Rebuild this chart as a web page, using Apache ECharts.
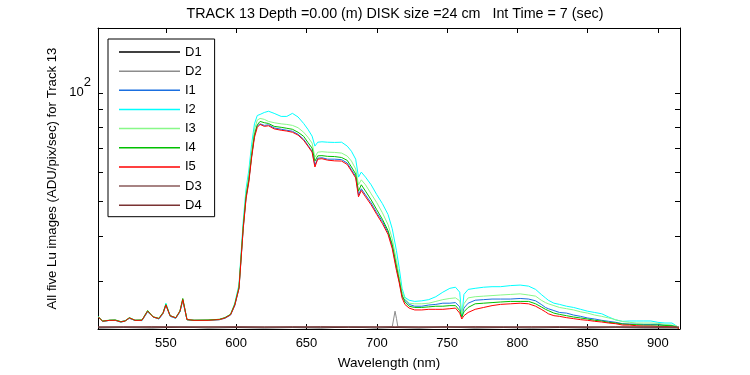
<!DOCTYPE html>
<html>
<head>
<meta charset="utf-8">
<script src="https://cdn.jsdelivr.net/npm/echarts@6/dist/echarts.min.js"></script>
<style>
  html, body { margin: 0; padding: 0; background: #fff; }
  #chart { width: 750px; height: 375px; }
</style>
</head>
<body>
<div id="chart"></div>
<script>
// wavelength grid (nm) for the five lit images
const wave = [502, 505, 510, 514, 518, 521, 524, 528, 533, 537, 541, 545, 548, 550, 553, 557, 560, 562, 565, 570,
  580, 588, 592, 596, 599, 602, 605, 607, 609, 611, 613, 615, 617, 620, 623, 627, 632, 636, 640, 644,
  648, 651, 654, 656, 658, 661, 665, 670, 675, 679, 682, 685, 687, 689, 692, 696, 700, 704, 708, 711,
  714, 716, 718, 720, 723, 727, 732, 737, 742, 747, 752, 756, 759, 760.5, 762, 765, 770, 776, 782, 788,
  795, 802, 808, 813, 817, 820, 822, 826, 830, 835, 840, 845, 850, 855, 860, 865, 870, 875, 880, 885,
  890, 895, 900, 905, 910, 913, 915]

const i1 = [23.75, 23.15, 23.3, 23.3, 23.1, 23.25, 23.6, 23.3, 23.3, 24.6, 23.8, 23.5, 24.3, 25.7, 23.9, 23.6, 24.6, 26.5, 23.4, 23.3,
  23.3, 23.4, 23.6, 24.1, 25.6, 28.6, 42.0, 51.0, 57.0, 66.8, 76.0, 81.0,
  82.0, 81.2, 81.5, 79.9, 79.2, 78.7, 78.2, 76.7, 74.3, 71.5, 68.8, 63.0, 65.8, 66.0, 65.4, 65.4, 65.2, 63.8,
  61.1, 58.6, 52.0, 54.1, 52.0, 49.4, 46.4, 43.9, 40.9, 37.4,
  32.5, 29.9, 27.2, 26.5, 25.8, 25.5, 25.5, 25.7, 25.8, 26.0,
  26.0, 26.1, 25.4, 23.9, 25.2, 26.0, 26.5, 26.6, 26.7, 26.7,
  26.7, 26.8, 26.7, 26.4, 25.8, 25.3, 25.1, 24.8, 24.5, 24.4,
  24.1, 23.9, 23.65, 23.5, 23.3, 23.15, 23.0, 22.8, 22.75, 22.75,
  22.7, 22.7, 22.7, 22.6, 22.55, 22.4, 22.15]

const i2 = [23.9, 23.1, 23.3, 23.3, 23.0, 23.2, 23.6, 23.3, 23.25, 24.6, 23.8, 23.5, 24.4, 26.0, 24.0, 23.6, 24.6, 26.5, 23.4, 23.3,
  23.3, 23.4, 23.7, 24.2, 26.0, 29.3, 44.0, 54.0, 61.0, 72.0, 82.0, 86.5,
  87.1, 88.2, 88.9, 87.7, 86.0, 86.0, 87.7, 85.7, 82.2, 79.2, 75.8, 71.1, 72.9, 73.1, 72.9, 72.8, 72.9, 71.1,
  68.8, 65.4, 58.3, 60.2, 58.3, 55.5, 52.1, 49.2, 45.9, 41.9,
  36.4, 32.5, 28.6, 27.0, 26.5, 26.3, 26.4, 26.6, 27.1, 27.9,
  28.6, 28.8, 27.9, 23.9, 27.5, 28.4, 28.6, 28.8, 28.9, 28.9,
  29.1, 29.2, 29.0, 28.4, 27.5, 26.9, 26.5, 26.0, 25.8, 25.5,
  25.3, 25.0, 24.7, 24.5, 24.3, 23.8, 23.35, 23.15, 23.2, 23.2,
  23.2, 23.2, 23.0, 22.9, 22.9, 22.5, 22.2]

const i3 = [23.85, 23.2, 23.35, 23.35, 23.1, 23.25, 23.7, 23.35, 23.35, 24.8, 23.85, 23.6, 24.4, 25.8, 24.0, 23.7, 24.8, 26.7, 23.45, 23.35,
  23.35, 23.45, 23.7, 24.25, 25.9, 29.0, 43.0, 52.5, 59.0, 69.0, 79.0, 84.0,
  84.9, 84.4, 83.3, 82.6, 82.0, 81.7, 81.2, 80.0, 77.7, 75.3, 72.5, 66.2, 68.4, 68.6, 68.4, 68.3, 68.0, 66.7,
  64.6, 61.4, 55.5, 57.3, 55.5, 52.4, 49.5, 46.4, 43.0, 39.3,
  34.2, 30.9, 28.0, 26.8, 26.0, 25.9, 25.9, 26.0, 26.3, 26.6,
  26.8, 26.9, 26.4, 24.3, 25.9, 26.9, 27.1, 27.2, 27.3, 27.4,
  27.5, 27.6, 27.4, 27.2, 26.5, 26.1, 25.9, 25.6, 25.3, 25.1,
  24.9, 24.6, 24.4, 24.1, 23.9, 23.65, 23.4, 23.1, 23.0, 22.9,
  22.9, 22.9, 22.85, 22.7, 22.6, 22.5, 22.2]

const i4 = [23.8, 23.2, 23.3, 23.35, 23.1, 23.2, 23.7, 23.3, 23.35, 24.8, 23.8, 23.6, 24.5, 25.8, 24.0, 23.7, 24.7, 26.8, 23.4, 23.3,
  23.35, 23.45, 23.7, 24.2, 25.8, 28.8, 42.5, 51.5, 57.5, 67.0, 76.5, 81.5,
  83.3, 82.6, 82.2, 80.7, 80.2, 79.7, 79.2, 77.7, 75.7, 72.8, 70.2, 64.6, 66.8, 66.9, 66.6, 66.5, 66.1, 64.9,
  62.2, 59.5, 53.3, 55.5, 53.3, 50.4, 47.3, 44.5, 41.4, 37.9,
  33.0, 30.1, 27.4, 26.2, 25.5, 25.3, 25.3, 25.4, 25.5, 25.5,
  25.6, 25.6, 24.8, 23.8, 24.6, 25.3, 25.9, 26.0, 26.1, 26.2,
  26.3, 26.3, 26.3, 25.9, 25.4, 25.0, 24.8, 24.4, 24.2, 24.0,
  23.8, 23.65, 23.5, 23.3, 23.2, 23.0, 22.9, 22.75, 22.7, 22.65,
  22.6, 22.6, 22.6, 22.55, 22.5, 22.35, 22.1]

const i5 = [23.8, 23.15, 23.3, 23.3, 23.05, 23.2, 23.65, 23.3, 23.3, 24.7, 23.8, 23.55, 24.4, 25.7, 24.0, 23.65, 24.7, 26.6, 23.4, 23.3,
  23.3, 23.4, 23.65, 24.15, 25.7, 28.6, 41.9, 50.7, 56.5, 66.2, 75.2, 80.2,
  81.7, 80.7, 81.0, 79.4, 78.7, 78.3, 77.7, 76.3, 73.8, 71.1, 68.4, 62.2, 65.4, 65.6, 65.0, 64.7, 64.6, 63.2,
  60.6, 58.0, 51.4, 53.5, 51.4, 48.8, 45.9, 43.3, 40.4, 36.9,
  32.1, 29.6, 26.9, 25.8, 25.2, 24.9, 24.9, 25.0, 25.0, 25.0,
  25.1, 25.2, 24.4, 23.5, 24.0, 24.5, 25.0, 25.3, 25.6, 25.8,
  25.9, 26.0, 25.9, 25.5, 25.0, 24.6, 24.3, 24.0, 23.9, 23.7,
  23.55, 23.4, 23.3, 23.15, 23.05, 22.9, 22.8, 22.6, 22.6, 22.5,
  22.45, 22.45, 22.4, 22.4, 22.35, 22.3, 22.1]

// dark images
const dWave = [502, 520, 540, 560, 580, 600, 620, 640, 660, 680, 700, 711, 712, 713, 714, 715, 730, 750, 770, 790, 810, 830, 850, 870, 890, 910, 915]
const d1 = [22.2, 22.25, 22.2, 22.3, 22.2, 22.25, 22.2, 22.25, 22.2, 22.3, 22.2, 22.25, 22.2, 22.25, 22.2, 22.25, 22.2, 22.3, 22.2, 22.25, 22.2, 22.25, 22.2, 22.25, 22.2, 22.2, 22.2]
const d2 = [22.3, 22.35, 22.3, 22.4, 22.3, 22.35, 22.3, 22.35, 22.3, 22.4, 22.3, 22.35, 22.4, 24.7, 23.6, 22.35, 22.3, 22.35, 22.3, 22.35, 22.3, 22.35, 22.3, 22.3, 22.3, 22.3, 22.3]
const d3 = [22.35, 22.3, 22.4, 22.35, 22.3, 22.4, 22.35, 22.3, 22.4, 22.35, 22.3, 22.4, 22.35, 22.35, 22.3, 22.4, 22.35, 22.3, 22.4, 22.35, 22.3, 22.4, 22.35, 22.3, 22.35, 22.3, 22.3]
const d4 = [22.3, 22.35, 22.3, 22.3, 22.35, 22.3, 22.3, 22.35, 22.3, 22.3, 22.35, 22.3, 22.3, 22.3, 22.35, 22.3, 22.3, 22.35, 22.3, 22.3, 22.35, 22.3, 22.3, 22.35, 22.3, 22.3, 22.3]

const xTicks = [550, 600, 650, 700, 750, 800, 850, 900]
const yTicks = [30, 40, 50, 60, 70, 80, 90, 100]
const yLabels = [100]

const font = 'Liberation Sans, Arial, Helvetica, sans-serif'

const seriesList = [
  { name: 'D1', x: dWave, y: d1, color: '#000000' },
  { name: 'D2', x: dWave, y: d2, color: '#8c8c8c' },
  { name: 'I1', x: wave, y: i1, color: '#1a6fe0' },
  { name: 'I2', x: wave, y: i2, color: '#00ffff' },
  { name: 'I3', x: wave, y: i3, color: '#88f888' },
  { name: 'I4', x: wave, y: i4, color: '#00c000' },
  { name: 'I5', x: wave, y: i5, color: '#ff0000' },
  { name: 'D3', x: dWave, y: d3, color: '#8a5a5a' },
  { name: 'D4', x: dWave, y: d4, color: '#7a3232' },
]

const chart = echarts.init(document.getElementById('chart'))

const xBase = {
  type: 'value',
  min: 501.7,
  max: 915.7,
  axisLine: { show: true, lineStyle: { color: '#000', width: 1 } },
  axisTick: { inside: true, length: 5, customValues: xTicks, lineStyle: { color: '#000' } },
  splitLine: { show: false },
}
const yBase = {
  type: 'log',
  logBase: 10,
  min: 22.04,
  max: 151.5,
  axisLine: { show: true, lineStyle: { color: '#000', width: 1 } },
  axisTick: { inside: true, length: 5, customValues: yTicks, lineStyle: { color: '#000' } },
  splitLine: { show: false },
  minorTick: { show: false },
}

chart.setOption({
  animation: false,
  backgroundColor: '#fff',
  textStyle: { fontFamily: font },
  title: {
    text: 'TRACK 13 Depth =0.00 (m) DISK size =24 cm   Int Time = 7 (sec)',
    left: 390,
    textAlign: 'center',
    top: 2,
    textStyle: { fontFamily: font, fontSize: 14.3, fontWeight: 'normal', color: '#000' },
  },
  grid: { left: 98, top: 28, right: 70, bottom: 44 },
  legend: {
    orient: 'vertical',
    left: 108,
    top: 39,
    padding: [6.5, 13, 5, 11],
    itemWidth: 61,
    itemHeight: 14,
    itemGap: 6.15,
    icon: 'path://M0,0H61V1.5H0Z',
    borderColor: '#000',
    borderWidth: 1,
    backgroundColor: '#fff',
    textStyle: { fontFamily: font, fontSize: 13, color: '#000' },
    data: seriesList.map(s => s.name),
  },
  xAxis: [
    {
      ...xBase,
      position: 'bottom',
      name: 'Wavelength (nm)',
      nameLocation: 'middle',
      nameGap: 27,
      nameTextStyle: { fontFamily: font, fontSize: 13.5, color: '#000' },
      axisLabel: { customValues: xTicks, margin: 8, color: '#000', fontFamily: font, fontSize: 13 },
    },
    { ...xBase, position: 'top', axisLabel: { show: false } },
  ],
  yAxis: [
    {
      ...yBase,
      position: 'left',
      name: 'All five Lu images (ADU/pix/sec) for Track 13',
      nameLocation: 'middle',
      nameGap: 32,
      nameTextStyle: { fontFamily: font, fontSize: 13.2, color: '#000' },
      axisLabel: {
        customValues: yLabels,
        margin: 7,
        formatter: () => '{b|10}{s|2}',
        rich: {
          b: { fontFamily: font, fontSize: 13, color: '#000' },
          s: { fontFamily: font, fontSize: 13, color: '#000', padding: [0, 0, 20, 0] },
        },
      },
    },
    { ...yBase, position: 'right', axisLabel: { show: false } },
  ],
  series: seriesList.map(s => ({
    name: s.name,
    type: 'line',
    xAxisIndex: 0,
    yAxisIndex: 0,
    symbol: 'none',
    clip: true,
    lineStyle: { color: s.color, width: 1 },
    itemStyle: { color: s.color },
    data: s.x.map((w, i) => [w, s.y[i]]),
  })),
})
</script>
</body>
</html>
